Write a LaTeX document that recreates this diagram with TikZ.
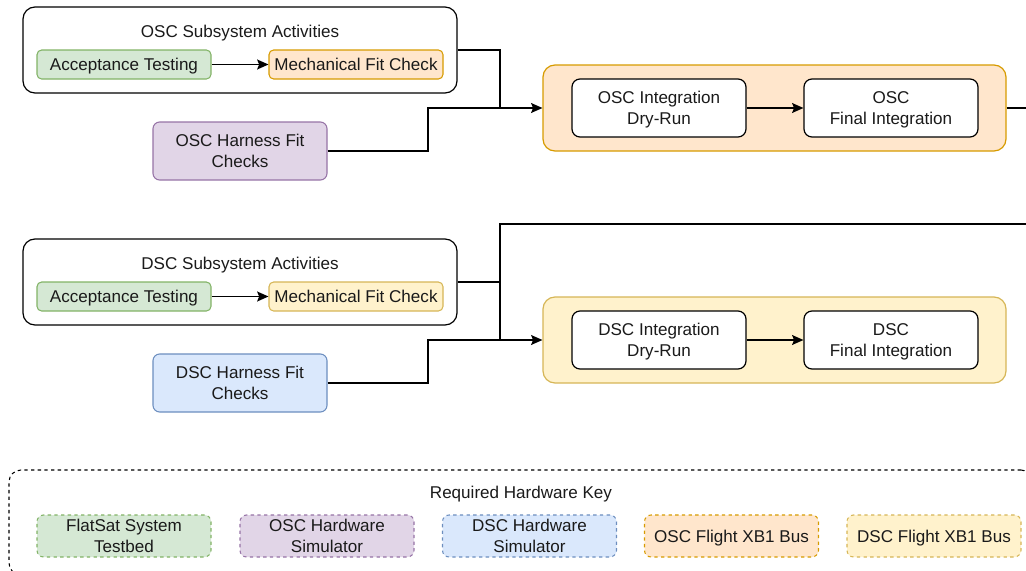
\documentclass[tikz,border=0pt]{standalone}
\usepackage{fontspec}
\setmainfont{Liberation Sans}
\usetikzlibrary{arrows.meta}
\definecolor{gfill}{HTML}{D5E8D4}\definecolor{gline}{HTML}{82B366}
\definecolor{ofill}{HTML}{FFE6CC}\definecolor{oline}{HTML}{D79B00}
\definecolor{yfill}{HTML}{FFF2CC}\definecolor{yline}{HTML}{D6B656}
\definecolor{pfill}{HTML}{E1D5E7}\definecolor{pline}{HTML}{9673A6}
\definecolor{bfill}{HTML}{DAE8FC}\definecolor{bline}{HTML}{6C8EBF}
\definecolor{txt}{HTML}{1A1A1A}
\tikzset{
  x=0.75pt, y=-0.75pt,
  every node/.style={font=\fontsize{12.8pt}{15.6pt}\selectfont, text=txt, align=center, inner sep=0pt, text depth=0pt},
  group/.style={draw=black, line width=0.9pt, rounded corners=9pt, minimum width=325.5pt, minimum height=64.5pt},
  small/.style={line width=0.8pt, rounded corners=3.5pt, minimum width=130.5pt, minimum height=21.75pt},
  tall/.style={line width=0.8pt, rounded corners=5pt, minimum width=130.5pt, minimum height=43.5pt},
  stepbox/.style={draw=black, fill=white, line width=0.9pt, rounded corners=6pt, minimum width=130.5pt, minimum height=43.5pt},
  cont/.style={line width=0.9pt, rounded corners=9pt, minimum width=347.25pt, minimum height=64.5pt},
  keybox/.style={line width=0.8pt, dashed, dash pattern=on 2.5pt off 2.5pt, rounded corners=5pt, minimum width=130.5pt, minimum height=31.5pt},
  conn/.style={draw=black, line width=0.9pt},
  arr/.style={conn, -{Stealth[length=8.5pt,width=7.5pt,inset=1.5pt]}},
}
\begin{document}
\begin{tikzpicture}
\useasboundingbox (0,0) rectangle (1026,571);
% OSC
\node[group] (oscsub) at (240,50) {};
\node (osctitle) at (240,31) {OSC Subsystem Activities};
\node[small, draw=gline, fill=gfill] (oscacc) at (124,64.5) {Acceptance Testing};
\node[small, draw=oline, fill=ofill] (oscmech) at (356,64.5) {Mechanical Fit Check};
\node[tall, draw=pline, fill=pfill] (oscharn) at (240,151) {OSC Harness Fit\\Checks};
\node[cont, draw=oline, fill=ofill] (osccont) at (774.5,108) {};
\node[stepbox] (oscdry) at (659,108) {OSC Integration\\Dry-Run};
\node[stepbox] (oscfin) at (891,108) {OSC\\Final Integration};
\draw[arr] (oscacc) -- (oscmech);
\draw[arr] (oscdry) -- (oscfin);
\coordinate (oscj) at (500,108);
\draw[conn] (oscsub.east) -| (oscj);
\draw[conn] (oscharn.east) -- (428,151) |- (oscj);
\draw[arr] (oscj) -- (osccont.west);
\coordinate (oscout) at (1040,108);
\draw[conn] (osccont.east) -- (oscout);
% DSC
\node[group] (dscsub) at (240,282) {};
\node (dsctitle) at (240,263) {DSC Subsystem Activities};
\node[small, draw=gline, fill=gfill] (dscacc) at (124,296.5) {Acceptance Testing};
\node[small, draw=yline, fill=yfill] (dscmech) at (356,296.5) {Mechanical Fit Check};
\node[tall, draw=bline, fill=bfill] (dscharn) at (240,383) {DSC Harness Fit\\Checks};
\node[cont, draw=yline, fill=yfill] (dsccont) at (774.5,340) {};
\node[stepbox] (dscdry) at (659,340) {DSC Integration\\Dry-Run};
\node[stepbox] (dscfin) at (891,340) {DSC\\Final Integration};
\draw[arr] (dscacc) -- (dscmech);
\draw[arr] (dscdry) -- (dscfin);
\coordinate (dscj) at (500,340);
\coordinate (dscup) at (500,224);
\coordinate (dscout) at (1040,224);
\draw[conn] (dscsub.east) -- (500,282);
\draw[conn] (dscout) -- (dscup) -- (dscj);
\draw[conn] (dscharn.east) -- (428,383) |- (dscj);
\draw[arr] (dscj) -- (dsccont.west);
% Key
\node[draw=black, line width=0.8pt, dashed, dash pattern=on 2.5pt off 2.5pt, rounded corners=9pt, minimum width=768pt, minimum height=78.75pt] (key) at (521,522.5) {};
\node (keytitle) at (521,492) {Required Hardware Key};
\node[keybox, draw=gline, fill=gfill] (k1) at (124,536) {FlatSat System\\Testbed};
\node[keybox, draw=pline, fill=pfill] (k2) at (327,536) {OSC Hardware\\Simulator};
\node[keybox, draw=bline, fill=bfill] (k3) at (529.5,536) {DSC Hardware\\Simulator};
\node[keybox, draw=oline, fill=ofill] (k4) at (731.5,536) {OSC Flight XB1 Bus};
\node[keybox, draw=yline, fill=yfill] (k5) at (934,536) {DSC Flight XB1 Bus};
\end{tikzpicture}
\end{document}
